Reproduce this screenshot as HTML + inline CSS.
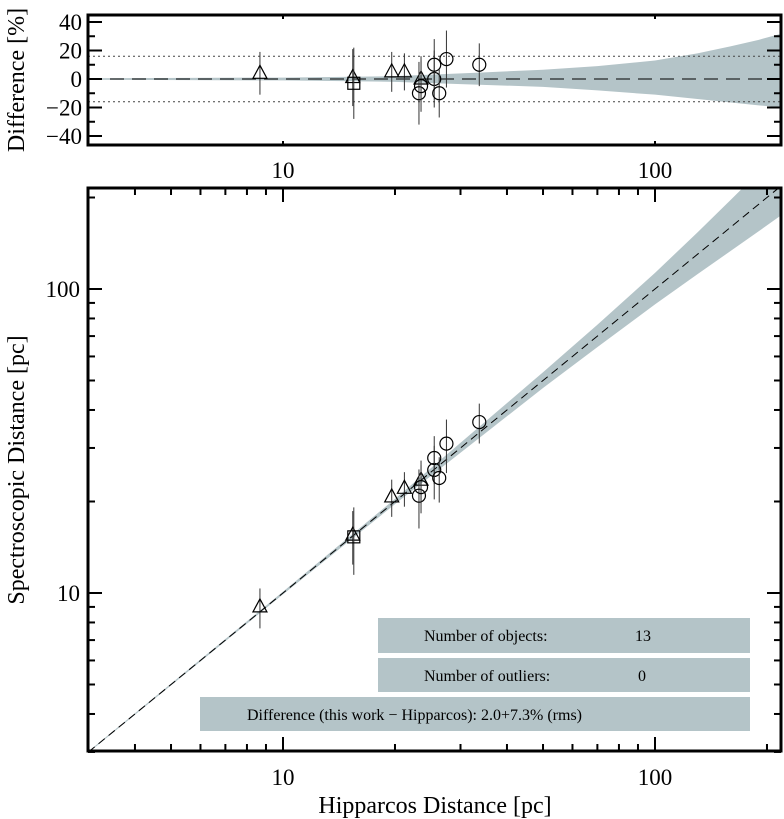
<!DOCTYPE html>
<html><head><meta charset="utf-8"><style>
html,body{margin:0;padding:0;background:#fff;}
svg{display:block;font-family:"Liberation Serif","DejaVu Serif",serif;}
</style></head><body>
<svg id="chart" width="784" height="819" xmlns="http://www.w3.org/2000/svg"></svg>
<script>
// ---- data ----
const hipDist   = [8.67, 15.4, 15.5, 19.6, 21.2, 23.5, 23.2, 23.5, 25.5, 25.5, 26.3, 27.5, 33.7];
const specDist  = [9.0, 15.5, 15.3, 20.7, 22.1, 23.5, 20.9, 22.3, 25.4, 27.8, 23.9, 31.0, 36.5];
const diffPct   = [4, 1, -3, 5, 5, 0, -10, -5, 0, 10, -10, 14, 10];
const errPct    = [15, 20, 25, 14, 13, 16, 22, 18, 20, 18, 17, 20, 15];
const markers   = ["tri","tri","sq","tri","tri","tri","circ","circ","circ","circ","circ","circ","circ"];
const bandX     = [3, 10, 20, 33.7, 50, 70, 100, 130, 160, 190, 220];
const bandUp    = [0.5, 1, 2, 4.5, 6.5, 9, 13, 18, 23, 27.5, 32];
const bandLo    = [-0.5, -1, -2, -4, -5.5, -8, -11, -14, -16.5, -18.5, -20];
const xTickVals = [10, 100];
const yTickVals = [10, 100];
const dTickVals = [-40, -20, 0, 20, 40];
const dotLines  = [16, -16];

const NS="http://www.w3.org/2000/svg";
const svg=document.getElementById('chart');
function el(t,a,p){const e=document.createElementNS(NS,t);for(const k in a)e.setAttribute(k,a[k]);(p||svg).appendChild(e);return e;}
const L=88,R=781;
const lx=v=>283+(Math.log10(v)-1)*372;
const mY=v=>593-(Math.log10(v)-1)*304;   // main y
const dY=v=>79-v*1.425;                  // diff y
const MT=188,MB=751,DT=15,DB=145;
const g1=el('g',{});  
const g2=el('g',{});  
const band='#b4c4c8';
el('defs',{}).innerHTML='<clipPath id="c1"><rect x="88" y="15" width="693" height="130"/></clipPath><clipPath id="c2"><rect x="88" y="188" width="693" height="563"/></clipPath>';

// difference band
let pts=bandX.map((x,i)=>lx(x)+','+dY(bandUp[i])).concat(bandX.map((x,i)=>lx(x)+','+dY(bandLo[i])).reverse());
let b1=el('polygon',{points:pts.join(' '),fill:band,'clip-path':'url(#c1)'},g1);
 
el('line',{x1:L,x2:R,y1:dY(0),y2:dY(0),stroke:'#000','stroke-width':1,'stroke-dasharray':'14,8'},g1);
dotLines.forEach(v=>{const d=el('line',{x1:L,x2:R,y1:dY(v),y2:dY(v),stroke:'#444','stroke-width':1,'stroke-dasharray':'2,3'},g1);
 });

// main band
pts=bandX.map((x,i)=>lx(x)+','+mY(x*(1+bandUp[i]/100))).concat(bandX.map((x,i)=>lx(x)+','+mY(x*(1+bandLo[i]/100))).reverse());
let b2=el('polygon',{points:pts.join(' '),fill:band,'clip-path':'url(#c2)'},g2);
 
el('line',{x1:lx(3),y1:mY(3),x2:lx(220),y2:mY(220),stroke:'#000','stroke-width':1,'stroke-dasharray':'8,5','clip-path':'url(#c2)'},g2);

function marker(type,x,y,g){
  let m;
  if(type==='tri') m=el('polygon',{points:`${x-7},${y+5} ${x+7},${y+5} ${x},${y-8}`,fill:'none',stroke:'#000','stroke-width':1.2},g);
  else if(type==='sq') m=el('rect',{x:x-6,y:y-6,width:12,height:12,fill:'none',stroke:'#000','stroke-width':1.2},g);
  else m=el('circle',{cx:x,cy:y,r:6.5,fill:'none',stroke:'#000','stroke-width':1.2},g);
   
}
hipDist.forEach((h,i)=>{
  const x=lx(h);
  el('line',{x1:x,x2:x,y1:dY(diffPct[i]+errPct[i]),y2:dY(diffPct[i]-errPct[i]),stroke:'#333','stroke-width':1},g1);
  marker(markers[i],x,dY(diffPct[i]),g1);
  const s=specDist[i];
  el('line',{x1:x,x2:x,y1:mY(s*(1+errPct[i]/100)),y2:mY(s*(1-errPct[i]/100)),stroke:'#333','stroke-width':1},g2);
  marker(markers[i],x,mY(s),g2);
});

// frames and ticks
function frame(t,b,g){el('rect',{x:L,y:t,width:R-L,height:b-t,fill:'none',stroke:'#000','stroke-width':3},g);}
frame(DT,DB,g1);frame(MT,MB,g2);
const minorX=[];for(let d=1;d<=100;d*=10)for(let k=1;k<10;k++){const v=k*d;if(v>=3&&v<=220)minorX.push(v);}
minorX.push(200);
minorX.forEach(v=>{const x=lx(v);const len=(v===10||v===100)?14:7;
  el('line',{x1:x,x2:x,y1:MB,y2:MB-len,stroke:'#000','stroke-width':2},g2);el('line',{x1:x,x2:x,y1:MT,y2:MT+len,stroke:'#000','stroke-width':2},g2);});
xTickVals.forEach(v=>{const x=lx(v);
  el('line',{x1:x,x2:x,y1:DB,y2:DB-4,stroke:'#000','stroke-width':2},g1);el('line',{x1:x,x2:x,y1:DT,y2:DT+4,stroke:'#000','stroke-width':2},g1);});
minorX.forEach(v=>{const y=mY(v);const len=(v===10||v===100)?14:7;
  el('line',{x1:L,x2:L+len,y1:y,y2:y,stroke:'#000','stroke-width':2},g2);el('line',{x1:R,x2:R-len,y1:y,y2:y,stroke:'#000','stroke-width':2},g2);});
for(let v=-40;v<=40;v+=10){const y=dY(v);const len=v%20===0?14:7;
  el('line',{x1:L,x2:L+len,y1:y,y2:y,stroke:'#000','stroke-width':2},g1);el('line',{x1:R,x2:R-len,y1:y,y2:y,stroke:'#000','stroke-width':2},g1);}

function txt(s,a,g,name){const t=el('text',a,g);t.textContent=s;return t;}
dTickVals.forEach(v=>txt((v<0?'\u2212':'')+Math.abs(v),{x:82,y:dY(v)+8,'font-size':23,'text-anchor':'end'},g1,'y-tick-label'));
xTickVals.forEach(v=>{txt(String(v),{x:lx(v),y:178,'font-size':23,'text-anchor':'middle'},g1,'x-tick-label');
  txt(String(v),{x:lx(v),y:785,'font-size':23,'text-anchor':'middle'},g2,'x-tick-label');});
yTickVals.forEach(v=>txt(String(v),{x:80,y:mY(v)+8,'font-size':23,'text-anchor':'end'},g2,'y-tick-label'));
txt('Difference  [%]',{x:0,y:0,'font-size':24,'text-anchor':'middle',transform:'translate(24,80) rotate(-90)'},g1,'y-axis-title');
txt('Spectroscopic Distance  [pc]',{x:0,y:0,'font-size':24,'text-anchor':'middle',transform:'translate(24,470) rotate(-90)'},g2,'y-axis-title');
txt('Hipparcos Distance  [pc]',{x:435,y:813,'font-size':24,'text-anchor':'middle'},g2,'x-axis-title');

// info boxes
function box(x,y,w,h,name){const r=el('rect',{x,y,width:w,height:h,fill:band},g2);}
box(378,618,372,35,'objects-box');box(378,658,372,34,'outliers-box');box(200,697,550,34,'difference-box');
txt('Number of objects:',{x:424,y:641,'font-size':16},g2,'objects-label');
txt('13',{x:635,y:641,'font-size':16},g2,'objects-value');
txt('Number of outliers:',{x:424,y:681,'font-size':16},g2,'outliers-label');
txt('0',{x:638,y:681,'font-size':16},g2,'outliers-value');
txt('Difference (this work \u2212 Hipparcos):   2.0+7.3% (rms)',{x:247,y:720,'font-size':16},g2,'difference-label');
</script>
</body></html>
